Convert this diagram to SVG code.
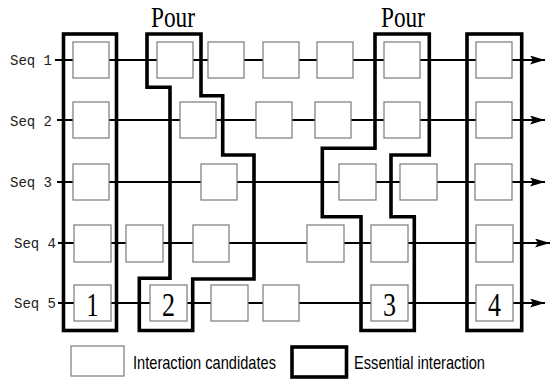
<svg xmlns="http://www.w3.org/2000/svg" width="555" height="379" viewBox="0 0 555 379">
<style>
.seq{stroke:#000;stroke-width:1.8;fill:none}
.box{fill:#fff;stroke:#7a7a7a;stroke-width:1.2}
.ess{fill:none;stroke:#000;stroke-width:3.6;stroke-linejoin:miter}
.lbl{font-family:"Liberation Mono","DejaVu Sans Mono",monospace;font-size:14px;fill:#222}
.pour{font-family:"Liberation Serif","Times New Roman",serif;font-size:30px;fill:#000}
.num{font-family:"Liberation Serif","Times New Roman",serif;font-size:33px;fill:#000;text-anchor:middle}
.leg{font-family:"Liberation Sans",Arial,sans-serif;font-size:19px;fill:#000}
</style>
<defs>
<marker id="arr" markerUnits="userSpaceOnUse" markerWidth="16" markerHeight="10" refX="15" refY="4.5" orient="auto">
<path d="M0,0 L15,4.5 L0,9 L3,4.5 Z" fill="#000"/>
</marker>
</defs>
<rect width="555" height="379" fill="#fff"/>
<g id="labels">
<text class="lbl" x="10" y="65">Seq 1</text>
<text class="lbl" x="10" y="126">Seq 2</text>
<text class="lbl" x="10" y="187">Seq 3</text>
<text class="lbl" x="14" y="248">Seq 4</text>
<text class="lbl" x="14" y="308">Seq 5</text>
</g>
<g id="connectors">
<line class="seq" x1="55" y1="60" x2="545" y2="60" marker-end="url(#arr)"/>
<line class="seq" x1="57" y1="120" x2="545" y2="120" marker-end="url(#arr)"/>
<line class="seq" x1="57" y1="182" x2="545" y2="182" marker-end="url(#arr)"/>
<line class="seq" x1="58" y1="243" x2="550" y2="243" marker-end="url(#arr)"/>
<line class="seq" x1="58" y1="303" x2="545" y2="303" marker-end="url(#arr)"/>
</g>
<g id="seq1">
<rect class="box" x="73" y="42" width="36" height="36"/>
<rect class="box" x="157" y="42" width="36" height="36"/>
<rect class="box" x="208" y="42" width="36" height="36"/>
<rect class="box" x="263" y="42" width="36" height="36"/>
<rect class="box" x="317" y="42" width="36" height="36"/>
<rect class="box" x="384" y="42" width="36" height="36"/>
<rect class="box" x="476" y="42" width="36" height="36"/>
</g>
<g id="seq2">
<rect class="box" x="73" y="102" width="36" height="36"/>
<rect class="box" x="180" y="102" width="36" height="36"/>
<rect class="box" x="256" y="102" width="36" height="36"/>
<rect class="box" x="315" y="102" width="36" height="36"/>
<rect class="box" x="384" y="102" width="36" height="36"/>
<rect class="box" x="476" y="102" width="36" height="36"/>
</g>
<g id="seq3">
<rect class="box" x="73" y="164" width="36" height="36"/>
<rect class="box" x="201" y="164" width="36" height="36"/>
<rect class="box" x="339" y="164" width="37" height="36"/>
<rect class="box" x="400" y="164" width="37" height="36"/>
<rect class="box" x="475" y="164" width="37" height="36"/>
</g>
<g id="seq4">
<rect class="box" x="74" y="225" width="37" height="37"/>
<rect class="box" x="126" y="225" width="37" height="37"/>
<rect class="box" x="193" y="225" width="36" height="37"/>
<rect class="box" x="307" y="225" width="37" height="37"/>
<rect class="box" x="371" y="225" width="37" height="37"/>
<rect class="box" x="476" y="225" width="37" height="37"/>
</g>
<g id="seq5">
<rect class="box" x="74" y="285" width="37" height="36"/>
<rect class="box" x="150" y="285" width="37" height="36"/>
<rect class="box" x="211" y="285" width="37" height="36"/>
<rect class="box" x="263" y="285" width="36" height="36"/>
<rect class="box" x="371" y="285" width="37" height="36"/>
<rect class="box" x="476" y="285" width="37" height="36"/>
</g>
<g id="essential1">
<rect class="ess" x="63.5" y="34" width="53" height="296.5"/>
<text class="num" x="92.5" y="316" textLength="12" lengthAdjust="spacingAndGlyphs">1</text>
</g>
<g id="essential2">
<path class="ess" d="M147,34 H201 V95.7 H222.7 V155 H254 V279 H192.7 V330.5 H139.3 V278.3 H170 V87.3 H147 Z"/>
<text class="pour" x="173" y="26.5" text-anchor="middle" textLength="44" lengthAdjust="spacingAndGlyphs">Pour</text>
<text class="num" x="168.5" y="316" textLength="13" lengthAdjust="spacingAndGlyphs">2</text>
</g>
<g id="essential3">
<path class="ess" d="M375,34 H429.3 V155 H391 V216.7 H414.3 V330.5 H361 V216.7 H322.3 V148.3 H375 Z"/>
<text class="pour" x="403" y="26.5" text-anchor="middle" textLength="44" lengthAdjust="spacingAndGlyphs">Pour</text>
<text class="num" x="389.5" y="316" textLength="13" lengthAdjust="spacingAndGlyphs">3</text>
</g>
<g id="essential4">
<rect class="ess" x="467" y="34" width="54.7" height="296.5"/>
<text class="num" x="494.5" y="316" textLength="13" lengthAdjust="spacingAndGlyphs">4</text>
</g>
<g id="legend">
<rect class="box" x="71" y="346" width="53" height="30"/>
<text class="leg" x="133" y="369" textLength="143" lengthAdjust="spacingAndGlyphs">Interaction candidates</text>
<rect class="ess" x="292" y="347" width="54.5" height="30"/>
<text class="leg" x="354" y="369" textLength="131" lengthAdjust="spacingAndGlyphs">Essential interaction</text>
</g>
</svg>
